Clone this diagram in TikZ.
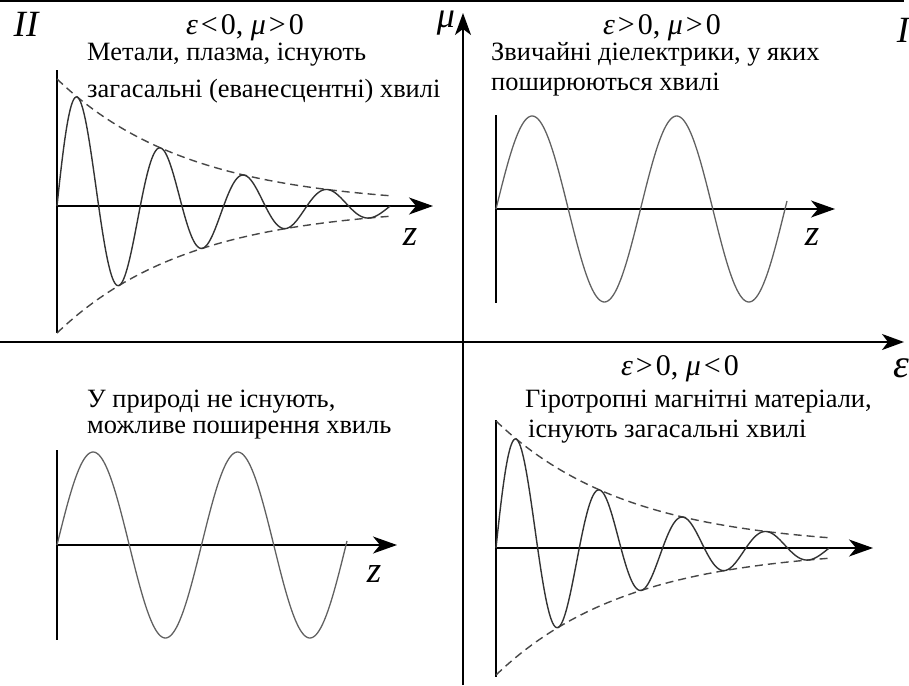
\documentclass[tikz,border=0pt]{standalone}
\usepackage{fontspec}
\setmainfont{Liberation Serif}
\usetikzlibrary{arrows.meta,positioning}

\begin{document}
\begin{tikzpicture}[x=1pt, y=-1pt,
  axis/.style={line width=1.6pt, -{Stealth[length=22pt, width=16pt, inset=6pt]}},
  subaxis/.style={line width=1.5pt},
  zaxis/.style={line width=1.5pt, -{Stealth[length=24pt, width=17pt, inset=7pt]}},
  wave/.style={line width=1.4pt, draw=black!80},
  sinewave/.style={line width=1.3pt, draw=black!62},
  envelope/.style={line width=1.4pt, draw=black!72, dash pattern=on 8pt off 5pt},
  desc/.style={font=\fontsize{26.4}{30}\selectfont, anchor=base west, inner sep=0pt},
  cond/.style={font=\fontsize{30}{32}\selectfont, anchor=base, inner sep=0pt, text depth=1pt},
  lbl/.style={font=\fontsize{37}{39}\selectfont\itshape, anchor=base, inner sep=0pt, text height=0.66em}
]
\useasboundingbox (0,0) rectangle (909,685);

% main axes
\coordinate (top l) at (0,1);
\coordinate (top r) at (904,1);
\draw[line width=2pt] (top l) -- (top r);
\coordinate (mu0) at (463,685);
\coordinate (mu1) at (463,13);
\coordinate (eps0) at (0,342);
\coordinate (eps1) at (904,342);
\draw[axis] (mu0) -- (mu1);
\draw[axis] (eps0) -- (eps1);
\node[lbl, font=\fontsize{36}{38}\selectfont\itshape, text height=0.45em] (mu) at (446,28) {μ};
\node[lbl, font=\fontsize{40}{42}\selectfont\itshape, text height=0.45em] (eps) at (901,377) {ε};
\node[lbl] (qII) at (26,37) {II};
\node[lbl] (qI) at (903,42) {I};

% quadrant II: evanescent wave
\coordinate (q2o) at (57,206);
\coordinate (q2t) at (57,70);
\coordinate (q2b) at (57,333);
\coordinate (q2z) at (433,206);
\draw[subaxis] (q2t) -- (q2b);
\draw[zaxis] (q2o) -- (q2z);
\draw[envelope, shift={(q2o)}] plot[domain=0:333, samples=80, smooth] (\x, {-127*exp(-0.00755*\x)});
\draw[envelope, shift={(q2o)}] plot[domain=0:333, samples=80, smooth] (\x, {127*exp(-0.00755*\x)});
\draw[wave, shift={(q2o)}] plot[domain=0:333, samples=300, smooth] (\x, {-127*exp(-0.00755*\x)*sin(4.3217*\x)});
\node[lbl] (z2) at (410,245) {z};
\node[cond] (c2) at (245,35) {\textit{ε}\kern3pt<\kern3pt0, \textit{μ}\kern3pt>\kern3pt0};
\node[desc] (t2a) at (87,60) {Метали, плазма, існують};
\node[desc] (t2b) at (87,97) {загасальні (еванесцентні) хвилі};

% quadrant I: ordinary dielectrics
\coordinate (q1o) at (496,209);
\coordinate (q1t) at (496,115);
\coordinate (q1b) at (496,303);
\coordinate (q1z) at (835,209);
\draw[subaxis] (q1t) -- (q1b);
\draw[zaxis] (q1o) -- (q1z);
\draw[sinewave, shift={(q1o)}] plot[domain=0:291, samples=200, smooth] (\x, {-93*sin(2.4913*\x)});
\node[lbl] (z1) at (812,245) {z};
\node[cond] (c1) at (662,35) {\textit{ε}\kern3pt>\kern3pt0, \textit{μ}\kern3pt>\kern3pt0};
\node[desc] (t1a) at (491,60) {Звичайні діелектрики, у яких};
\node[desc] (t1b) at (491,90) {поширюються хвилі};

% quadrant III
\coordinate (q3o) at (57,545);
\coordinate (q3t) at (57,450);
\coordinate (q3b) at (57,640);
\coordinate (q3z) at (397,545);
\draw[subaxis] (q3t) -- (q3b);
\draw[zaxis] (q3o) -- (q3z);
\draw[sinewave, shift={(q3o)}] plot[domain=0:290, samples=200, smooth] (\x, {-93*sin(2.4913*\x)});
\node[lbl] (z3) at (374,582) {z};
\node[desc] (t3a) at (87,407) {У природі не існують,};
\node[desc] (t3b) at (87,433) {можливе поширення хвиль};

% quadrant IV: gyrotropic media
\coordinate (q4o) at (496,548);
\coordinate (q4t) at (496,420);
\coordinate (q4b) at (496,677);
\coordinate (q4z) at (873,548);
\draw[subaxis] (q4t) -- (q4b);
\draw[zaxis] (q4o) -- (q4z);
\draw[envelope, shift={(q4o)}] plot[domain=0:333, samples=80, smooth] (\x, {-127*exp(-0.00755*\x)});
\draw[envelope, shift={(q4o)}] plot[domain=0:333, samples=80, smooth] (\x, {127*exp(-0.00755*\x)});
\draw[wave, shift={(q4o)}] plot[domain=0:333, samples=300, smooth] (\x, {-127*exp(-0.00755*\x)*sin(4.3217*\x)});
\node[cond] (c4) at (680,375) {\textit{ε}\kern3pt>\kern3pt0, \textit{μ}\kern3pt<\kern3pt0};
\node[desc] (t4a) at (525,407) {Гіротропні магнітні матеріали,};
\node[desc] (t4b) at (528,437) {існують загасальні хвилі};
\end{tikzpicture}
\end{document}
